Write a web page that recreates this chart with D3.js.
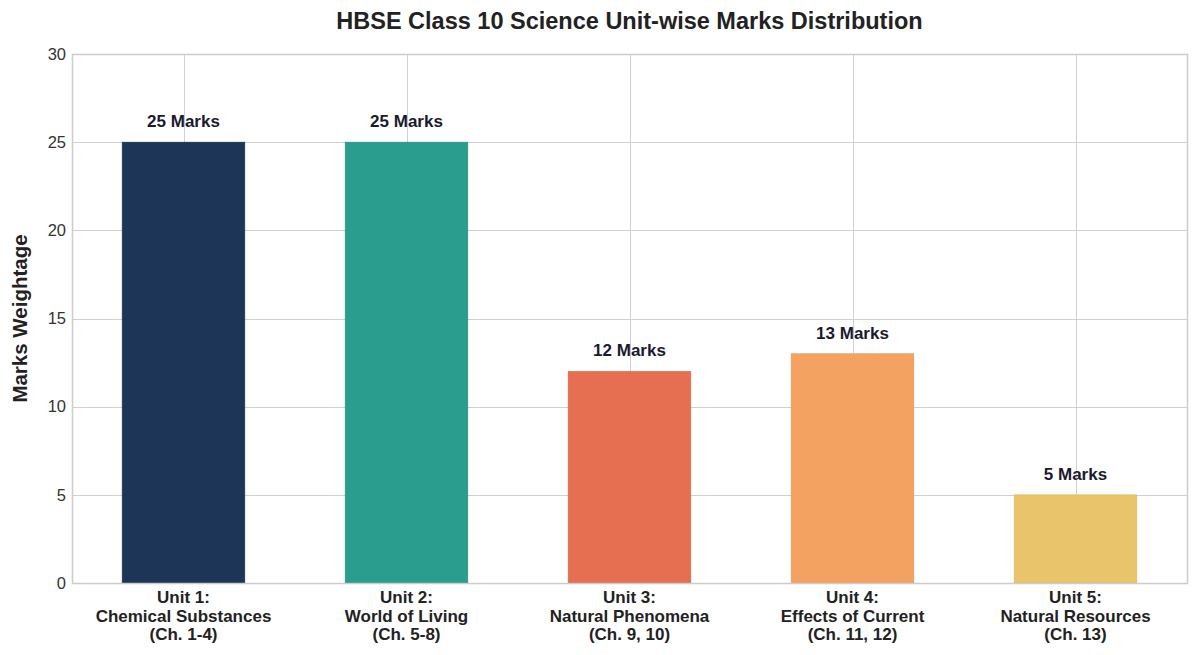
<!doctype html>
<html>
<head>
<meta charset="utf-8">
<title>HBSE Class 10 Science Unit-wise Marks Distribution</title>
<script src="https://d3js.org/d3.v7.min.js"></script>
<style>
  body { margin: 0; background: #fff; }
  text { font-family: "Liberation Sans", Arial, sans-serif; }
</style>
</head>
<body>
<div id="chart"></div>
<script>
// data
var units = [
  ["Unit 1:", "Chemical Substances", "(Ch. 1-4)"],
  ["Unit 2:", "World of Living", "(Ch. 5-8)"],
  ["Unit 3:", "Natural Phenomena", "(Ch. 9, 10)"],
  ["Unit 4:", "Effects of Current", "(Ch. 11, 12)"],
  ["Unit 5:", "Natural Resources", "(Ch. 13)"]
];
var marks = [25, 25, 12, 13, 5];
var colors = ["#1d3557", "#2a9d8f", "#e76f51", "#f4a261", "#e9c46a"];
var yTicks = [0, 5, 10, 15, 20, 25, 30];

var width = 1200, height = 655;
var margin = {top: 54, right: 13, bottom: 72, left: 72};
var innerW = width - margin.left - margin.right;
var innerH = height - margin.top - margin.bottom;

var svg = d3.select("#chart").append("svg")
    .attr("width", width)
    .attr("height", height);

var g = svg.append("g")
    .attr("transform", "translate(" + margin.left + "," + margin.top + ")");

var x = d3.scaleBand()
    .domain(d3.range(units.length))
    .range([0, innerW])
    .paddingInner(0.45)
    .paddingOuter(0.225);

var y = d3.scaleLinear()
    .domain([0, 30])
    .range([innerH, 0]);

// grid
g.selectAll(".hgrid")
    .data(yTicks)
  .enter().append("line")
    .attr("class", "hgrid")
    .attr("x1", 0).attr("x2", innerW)
    .attr("y1", function(d) { return Math.round(y(d)) + 0.5; })
    .attr("y2", function(d) { return Math.round(y(d)) + 0.5; })
    .style("stroke", "#d0d0d0");

g.selectAll(".vgrid")
    .data(d3.range(units.length))
  .enter().append("line")
    .attr("class", "vgrid")
    .attr("x1", function(d) { return Math.round(x(d) + x.bandwidth() / 2) + 0.5; })
    .attr("x2", function(d) { return Math.round(x(d) + x.bandwidth() / 2) + 0.5; })
    .attr("y1", 0).attr("y2", innerH)
    .style("stroke", "#d0d0d0");

// bars
g.selectAll(".bar")
    .data(marks)
  .enter().append("rect")
    .attr("class", "bar")
    .attr("x", function(d, i) { return x(i); })
    .attr("y", function(d) { return y(d); })
    .attr("width", x.bandwidth())
    .attr("height", function(d) { return innerH - y(d); })
    .style("fill", function(d, i) { return colors[i]; })
    .style("stroke", function(d, i) { return d3.color(colors[i]).darker(0.2); })
    .style("stroke-width", 0.6);

// value labels
g.selectAll(".val")
    .data(marks)
  .enter().append("text")
    .attr("class", "val")
    .attr("x", function(d, i) { return x(i) + x.bandwidth() / 2; })
    .attr("y", function(d) { return y(d) - 15; })
    .attr("text-anchor", "middle")
    .style("font-size", "17px")
    .style("font-weight", "bold")
    .style("fill", "#1a1a2e")
    .text(function(d) { return d + " Marks"; });

// frame
g.append("rect")
    .attr("x", 0.5).attr("y", 0.5)
    .attr("width", innerW).attr("height", innerH)
    .style("fill", "none")
    .style("stroke", "#cccccc")
    .style("stroke-width", 1.5);

// y axis
var yAxis = g.append("g")
    .call(d3.axisLeft(y).tickValues(yTicks).tickSize(0).tickPadding(6));
yAxis.select(".domain").remove();
yAxis.selectAll("text")
    .style("font-size", "16.5px")
    .style("fill", "#333")
    .style("font-family", "'Liberation Sans', Arial, sans-serif");

// x axis labels, three lines each
var xLab = g.selectAll(".xlab")
    .data(units)
  .enter().append("text")
    .attr("class", "xlab")
    .attr("transform", function(d, i) {
      return "translate(" + (x(i) + x.bandwidth() / 2) + "," + (innerH + 20) + ")";
    })
    .attr("text-anchor", "middle")
    .style("font-size", "17px")
    .style("font-weight", "bold")
    .style("fill", "#222");

xLab.selectAll("tspan")
    .data(function(d) { return d; })
  .enter().append("tspan")
    .attr("x", 0)
    .attr("dy", function(d, i) { return i === 0 ? 0 : 18.5; })
    .text(function(d) { return d; });

// y axis title
svg.append("text")
    .attr("transform", "translate(27," + (margin.top + innerH / 2) + ") rotate(-90)")
    .attr("text-anchor", "middle")
    .style("font-size", "20.5px")
    .style("font-weight", "bold")
    .style("fill", "#222")
    .text("Marks Weightage");

// title
svg.append("text")
    .attr("x", margin.left + innerW / 2)
    .attr("y", 29)
    .attr("text-anchor", "middle")
    .style("font-size", "23.5px")
    .style("font-weight", "bold")
    .style("fill", "#222")
    .text("HBSE Class 10 Science Unit-wise Marks Distribution");
</script>
</body>
</html>
